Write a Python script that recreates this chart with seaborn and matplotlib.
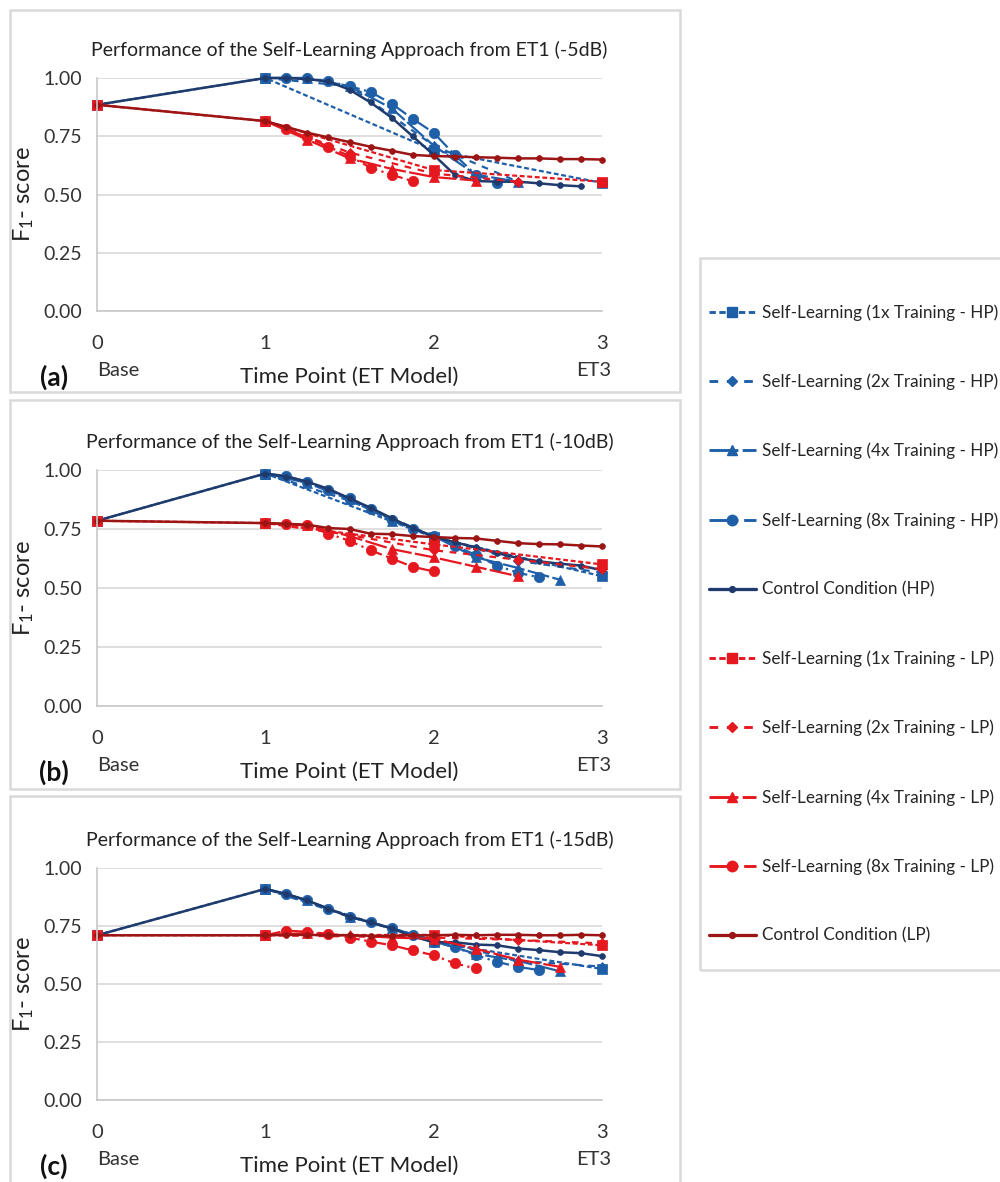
import numpy as np
import pandas as pd
import matplotlib
matplotlib.use("Agg")
import matplotlib.pyplot as plt
import seaborn as sns
from matplotlib.lines import Line2D
from matplotlib.patches import Rectangle
from matplotlib.ticker import FormatStrFormatter

sns.set_theme(style="white")
plt.rcParams["font.family"] = ["Lato", "DejaVu Sans"]
plt.rcParams["mathtext.default"] = "regular"

# time points (ET model index), each series may stop early
T_1X = [0, 1, 2, 3]
T_2X = [1, 1.5, 2, 2.5, 3]
T_4X = [1, 1.25, 1.5, 1.75, 2, 2.25, 2.5, 2.75, 3]
T_8X = [1, 1.125, 1.25, 1.375, 1.5, 1.625, 1.75, 1.875, 2,
        2.125, 2.25, 2.375, 2.5, 2.625, 2.75, 2.875, 3]
T_CTRL = [0] + T_8X

# (a) -5dB
a_hp_1x = [0.885, 1.00, 0.69, 0.55]
a_hp_2x = [1.00, 0.965, 0.71, 0.555]
a_hp_4x = [1.00, 1.00, 0.965, 0.87, 0.71, 0.585, 0.555]
a_hp_8x = [1.00, 1.00, 1.00, 0.985, 0.965, 0.94, 0.89, 0.825, 0.765, 0.67, 0.585, 0.55]
a_hp_ctrl = [0.885, 1.00, 1.00, 0.995, 0.985, 0.95, 0.895, 0.83, 0.75, 0.67,
             0.585, 0.558, 0.555, 0.555, 0.548, 0.54, 0.535]
a_lp_1x = [0.885, 0.815, 0.605, 0.555]
a_lp_2x = [0.815, 0.68, 0.59, 0.555]
a_lp_4x = [0.815, 0.735, 0.655, 0.61, 0.575, 0.56]
a_lp_8x = [0.815, 0.78, 0.745, 0.705, 0.665, 0.615, 0.585, 0.557]
a_lp_ctrl = [0.885, 0.815, 0.79, 0.765, 0.745, 0.725, 0.705, 0.688, 0.67, 0.665,
             0.663, 0.66, 0.658, 0.655, 0.655, 0.652, 0.652, 0.65]

# (b) -10dB
b_hp_1x = [0.785, 0.985, 0.715, 0.55]
b_hp_2x = [0.985, 0.87, 0.72, 0.615, 0.565]
b_hp_4x = [0.985, 0.945, 0.875, 0.785, 0.72, 0.63, 0.585, 0.535]
b_hp_8x = [0.985, 0.975, 0.95, 0.915, 0.88, 0.835, 0.79, 0.75, 0.72, 0.68,
           0.64, 0.595, 0.565, 0.545]
b_hp_ctrl = [0.785, 0.985, 0.972, 0.95, 0.92, 0.88, 0.84, 0.796, 0.754, 0.718,
             0.694, 0.672, 0.648, 0.627, 0.613, 0.603, 0.595, 0.575]
b_lp_1x = [0.785, 0.775, 0.685, 0.60]
b_lp_2x = [0.775, 0.725, 0.66, 0.62, 0.58]
b_lp_4x = [0.775, 0.765, 0.72, 0.665, 0.63, 0.59, 0.55]
b_lp_8x = [0.775, 0.77, 0.765, 0.73, 0.70, 0.66, 0.625, 0.59, 0.57]
b_lp_ctrl = [0.785, 0.775, 0.772, 0.768, 0.754, 0.75, 0.73, 0.728, 0.72, 0.716,
             0.712, 0.71, 0.70, 0.69, 0.686, 0.685, 0.68, 0.676]

# (c) -15dB
c_hp_1x = [0.71, 0.91, 0.68, 0.565]
c_hp_2x = [0.91, 0.79, 0.69, 0.60, 0.575]
c_hp_4x = [0.91, 0.86, 0.79, 0.74, 0.685, 0.63, 0.60, 0.555]
c_hp_8x = [0.91, 0.888, 0.86, 0.824, 0.79, 0.766, 0.742, 0.713, 0.68, 0.66,
           0.624, 0.596, 0.574, 0.56]
c_hp_ctrl = [0.71, 0.91, 0.888, 0.86, 0.824, 0.79, 0.766, 0.74, 0.705, 0.68,
             0.68, 0.67, 0.667, 0.653, 0.646, 0.637, 0.633, 0.62]
c_lp_1x = [0.71, 0.71, 0.712, 0.667]
c_lp_2x = [0.71, 0.705, 0.70, 0.69, 0.675]
c_lp_4x = [0.71, 0.72, 0.71, 0.70, 0.695, 0.652, 0.605, 0.574]
c_lp_8x = [0.71, 0.73, 0.725, 0.716, 0.70, 0.683, 0.667, 0.645, 0.624, 0.589, 0.567]
c_lp_ctrl = [0.71, 0.71, 0.712, 0.712, 0.71, 0.71, 0.708, 0.708, 0.71, 0.71,
             0.712, 0.71, 0.712, 0.712, 0.71, 0.71, 0.712, 0.71]

labels = ["Self-Learning (1x Training - HP)", "Self-Learning (2x Training - HP)",
          "Self-Learning (4x Training - HP)", "Self-Learning (8x Training - HP)",
          "Control Condition (HP)",
          "Self-Learning (1x Training - LP)", "Self-Learning (2x Training - LP)",
          "Self-Learning (4x Training - LP)", "Self-Learning (8x Training - LP)",
          "Control Condition (LP)"]
titles = ["Performance of the Self-Learning Approach from ET1 (-5dB)",
          "Performance of the Self-Learning Approach from ET1 (-10dB)",
          "Performance of the Self-Learning Approach from ET1 (-15dB)"]
tags = ["(a)", "(b)", "(c)"]

BLUE = "#1F5FA8"
NAVY = "#1F3B6E"
RED = "#E5171F"
DRED = "#9C1515"

# style per series: (times, color, marker, markersize, linestyle, linewidth)
styles = [
    (T_1X, BLUE, "s", 7, (0, (2.2, 1.2)), 1.6),
    (T_2X, BLUE, "D", 5.5, (0, (3, 3)), 1.6),
    (T_4X, BLUE, "^", 7, (0, (10, 1.5)), 1.6),
    (T_8X, BLUE, "o", 7.5, (0, (7, 2, 1, 2)), 1.6),
    (T_CTRL, NAVY, "o", 4.2, "-", 1.8),
    (T_1X, RED, "s", 7, (0, (2.2, 1.2)), 1.6),
    (T_2X, RED, "D", 5.5, (0, (3, 3)), 1.6),
    (T_4X, RED, "^", 7, (0, (10, 1.5)), 1.6),
    (T_8X, RED, "o", 7.5, (0, (7, 2, 1, 2)), 1.6),
    (T_CTRL, DRED, "o", 4.2, "-", 1.8),
]

panels = [
    [a_hp_1x, a_hp_2x, a_hp_4x, a_hp_8x, a_hp_ctrl, a_lp_1x, a_lp_2x, a_lp_4x, a_lp_8x, a_lp_ctrl],
    [b_hp_1x, b_hp_2x, b_hp_4x, b_hp_8x, b_hp_ctrl, b_lp_1x, b_lp_2x, b_lp_4x, b_lp_8x, b_lp_ctrl],
    [c_hp_1x, c_hp_2x, c_hp_4x, c_hp_8x, c_hp_ctrl, c_lp_1x, c_lp_2x, c_lp_4x, c_lp_8x, c_lp_ctrl],
]

W, H = 1000, 1182
fig = plt.figure(figsize=(W / 100, H / 100), dpi=100)

# panel frames and legend frame (pixels: x0, y0, x1, y1 from top-left)
boxes = [(10, 10, 680, 392), (10, 400, 680, 789), (10, 796, 680, 1195)]
for x0, y0, x1, y1 in boxes + [(700, 258, 1010, 970)]:
    fig.add_artist(Rectangle((x0 / W, 1 - y1 / H), (x1 - x0) / W, (y1 - y0) / H,
                             transform=fig.transFigure, fill=False,
                             edgecolor="#D9D9D9", linewidth=1.8))

# axes positions in pixels (left, top, right, bottom)
ax_px = [(97, 78, 602, 311), (97, 470, 602, 706), (97, 868, 602, 1100)]
GRID = "#D9D9D9"
TXT = "#333333"

for i, (l, t, r, b) in enumerate(ax_px):
    ax = fig.add_axes([l / W, 1 - b / H, (r - l) / W, (b - t) / H])
    hpx = b - t
    for vals, (times, col, mk, ms, ls, lw) in zip(panels[i], styles):
        df = pd.DataFrame({"t": times[:len(vals)], "f1": vals})
        sns.lineplot(data=df, x="t", y="f1", ax=ax, color=col, marker=mk,
                     markersize=ms, markeredgecolor=col, markeredgewidth=0.5,
                     linestyle=ls, linewidth=lw, clip_on=False, legend=False)
    ax.set_xlim(0, 3)
    ax.set_ylim(0, 1)
    ax.set_yticks([0, 0.25, 0.5, 0.75, 1.0])
    ax.yaxis.set_major_formatter(FormatStrFormatter("%.2f"))
    ax.set_xticks([0, 1, 2, 3])
    ax.set_xticklabels(["0", "1", "2", "3"])
    ax.tick_params(axis="x", length=0, pad=17, labelsize=14.5, labelcolor=TXT)
    ax.tick_params(axis="y", length=0, pad=11, labelsize=14, labelcolor=TXT)
    ax.grid(axis="y", color=GRID, linewidth=1.2)
    ax.grid(axis="x", visible=False)
    for s in ["top", "right"]:
        ax.spines[s].set_visible(False)
    for s in ["left", "bottom"]:
        ax.spines[s].set_color("#C8C8C8")
        ax.spines[s].set_linewidth(1.2)
    ax.set_xlabel("Time Point (ET Model)", fontsize=16, color="#222222")
    ax.xaxis.set_label_coords(0.5, -56 / hpx)
    ax.set_ylabel("F$_1$- score", fontsize=17, color="#222222")
    ax.yaxis.set_label_coords(-61 / 505, 0.5)
    ax.set_title(titles[i], fontsize=14, color="#222222", pad=16)
    ax.annotate("Base", xy=(0, 0), xycoords=("data", "axes fraction"),
                xytext=(0, -43), textcoords="offset points", ha="left", va="center",
                fontsize=14.5, color=TXT)
    ax.annotate("ET3", xy=(3, 0), xycoords=("data", "axes fraction"),
                xytext=(7, -43), textcoords="offset points", ha="right", va="center",
                fontsize=14.5, color=TXT)
    ax.annotate(tags[i], xy=(0, 0), xycoords="axes fraction",
                xytext=(-31, -48), textcoords="offset points", ha="center", va="center",
                fontsize=19, fontweight="bold", color="#111111")

handles = [Line2D([], [], color=col, marker=mk, markersize=ms, markeredgecolor=col,
                  linestyle=ls, linewidth=lw * 1.3)
           for (_, col, mk, ms, ls, lw) in styles]
fig.legend(handles, labels, loc="upper left", bbox_to_anchor=(0.709, 1 - 304 / H),
           frameon=False, fontsize=12.3, handlelength=2.75, handletextpad=0.35,
           labelspacing=3.09, borderaxespad=0, borderpad=0, numpoints=1)

fig.savefig("out.png", dpi=100)
